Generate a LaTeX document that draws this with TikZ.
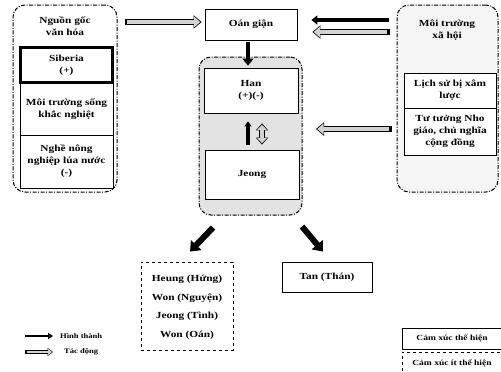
\documentclass[tikz,border=0pt]{standalone}
\usepackage{fontspec}
\setmainfont{Liberation Serif}[FakeStretch=1.22]
\usetikzlibrary{arrows.meta,calc}
\newcommand\grayarr[2]{%
  \draw[line width=5.4pt, -{Triangle[width=13pt,length=8pt]}] #1 -- #2;
  \draw[line width=3.6pt, gray!35, shorten <=2.5pt, shorten >=1.3pt,
        -{Triangle[width=10.6pt,length=6.3pt]}] #1 -- #2;}
\begin{document}
\begin{tikzpicture}[x=1pt,y=-1pt,
  font=\fontsize{9.3}{12}\selectfont\bfseries,
  box/.style={draw, fill=white, line width=0.8pt, align=center, inner sep=1pt},
  cont/.style={draw, dash pattern=on 4pt off 1.5pt on 1pt off 1.5pt, line width=1pt, rounded corners=12pt},
  blk/.style={line width=3.5pt, -{Triangle[width=9pt,length=6pt]}},
  lbl/.style={align=center, inner sep=0pt}]
\useasboundingbox (0,0) rectangle (501,372);
% containers
\node[cont, minimum width=104pt, minimum height=187pt] (L) at (65,98.5) {};
\node[cont, fill=gray!8, minimum width=101pt, minimum height=187pt] (R) at (447.5,98.5) {};
\node[cont, fill=gray!22, minimum width=103pt, minimum height=158pt] (M) at (250.5,136) {};
% left
\node[lbl] (Lt) at (65,26) {Nguồn gốc\\văn hóa};
\node[box, line width=2.2pt, minimum width=92pt, minimum height=35pt] (sib) at (66.5,65) {Siberia\\(+)};
\node[box, minimum width=93pt, minimum height=52pt] (moi) at (66.5,109) {Môi trường sống\\khắc nghiệt};
\node[box, minimum width=93pt, minimum height=53pt] (nghe) at (66.5,161.5) {Nghề nông\\nghiệp lúa nước\\(-)};
% right
\node[lbl] (Rt) at (447,30) {Môi trường\\xã hội};
\node[box, minimum width=92pt, minimum height=35pt] (lich) at (450,90.5) {Lịch sử bị xâm\\lược};
\node[box, minimum width=92pt, minimum height=47pt] (tu) at (450,131.5) {Tư tưởng Nho\\giáo, chủ nghĩa\\cộng đồng};
% middle
\node[box, minimum width=92pt, minimum height=31pt] (oan) at (251,24.5) {Oán giận};
\node[box, minimum width=94pt, minimum height=45pt] (han) at (251,90.5) {Han\\(+)(-)};
\node[box, minimum width=94pt, minimum height=49pt] (jeong) at (252,174.5) {Jeong};
% bottom
\node[box, dashed, minimum width=92pt, minimum height=88pt] (heung) at (187,306) {};
\node[lbl] at (187,279) {Heung (Hứng)};
\node[lbl] at (187,298) {Won (Nguyện)};
\node[lbl] at (187,316) {Jeong (Tình)};
\node[lbl] at (187,335) {Won (Oán)};
\node[box, minimum width=90pt, minimum height=30pt] (tan) at (327,277) {Tan (Thán)};
% arrows
\grayarr{([xshift=7pt,yshift=2.5pt]oan.west -| L.east)}{([xshift=-3pt,yshift=2.5pt]oan.west)}
\draw[blk] ([xshift=-8pt,yshift=4.5pt]oan.east -| R.west) -- ([xshift=14pt,yshift=4.5pt]oan.east);
\grayarr{([xshift=-7pt,yshift=-7.5pt]oan.east -| R.west)}{([xshift=15pt,yshift=-7.5pt]oan.east)}
\draw[blk, line width=4.5pt, -{Triangle[width=11pt,length=7pt]}] ([xshift=-3pt,yshift=-2pt]oan.south) -- ([xshift=-3pt,yshift=2pt]han.north);
\grayarr{($(R.west)+(-5,30.5)$)}{($(M.east)+(13.5,-7)$)}
\draw[blk, line width=3.5pt, -{Triangle[width=7pt,length=5pt]}] ([xshift=-4pt,yshift=5pt]jeong.north) -- ([xshift=-3pt,yshift=-8pt]han.south);
\draw[line width=5.4pt, {Triangle[width=12pt,length=7pt]}-{Triangle[width=12pt,length=7pt]}]
  ([xshift=10pt,yshift=5pt]jeong.north) -- ([xshift=11pt,yshift=-10pt]han.south);
\draw[line width=3.8pt, gray!35, shorten <=1.3pt, shorten >=1.3pt, {Triangle[width=9.6pt,length=5.3pt]}-{Triangle[width=9.6pt,length=5.3pt]}]
  ([xshift=10pt,yshift=5pt]jeong.north) -- ([xshift=11pt,yshift=-10pt]han.south);
\draw[blk, line width=6pt, -{Triangle[width=14pt,length=9pt]}] ($(M.south)+(-37.5,12)$) -- ($(heung.north)+(3,-10)$);
\draw[blk, line width=6pt, -{Triangle[width=14pt,length=9pt]}] ($(M.south)+(51.5,11)$) -- ($(tan.north)+(-4,-10)$);
% legend
\coordinate (a1) at (25,336); \coordinate (a2) at (53,336);
\coordinate (b1) at (25,352); \coordinate (b2) at (53,352);
\draw[line width=2pt, -{Triangle[width=6pt,length=5pt]}] (a1) -- (a2);
\draw[line width=3.6pt, -{Triangle[width=8pt,length=5.5pt]}] (b1) -- (b2);
\draw[line width=2.2pt, gray!35, shorten <=1.5pt, shorten >=1pt, -{Triangle[width=6pt,length=4pt]}] (b1) -- (b2);
\node[lbl, anchor=west, font=\fontsize{7}{8}\selectfont\bfseries] at (60,336) {Hình thành};
\node[lbl, anchor=west, font=\fontsize{7}{8}\selectfont\bfseries] at (64,352) {Tác động};
\node[draw, line width=0.8pt, minimum width=104pt, minimum height=21pt] (k1) at (454,338.5) {};
\node[lbl, font=\fontsize{7.8}{9}\selectfont\bfseries] at (452,338.5) {Cảm xúc thể hiện};
\node[draw, dashed, line width=0.8pt, minimum width=104pt, minimum height=28pt] (k2) at (454,366) {};
\node[lbl, font=\fontsize{7.8}{9}\selectfont\bfseries] at (452,363) {Cảm xúc ít thể hiện};
\end{tikzpicture}
\end{document}
